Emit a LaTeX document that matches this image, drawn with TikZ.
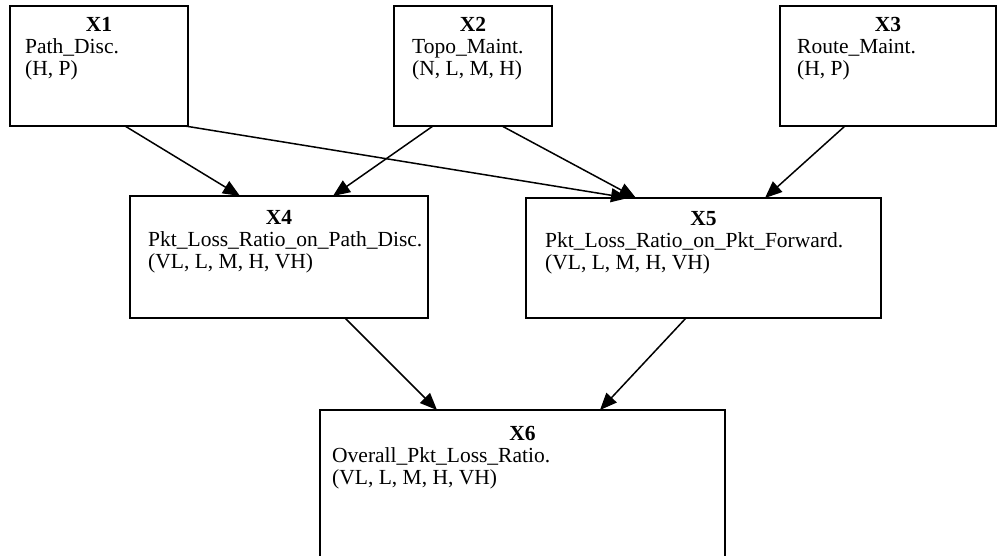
\documentclass[tikz,border=0pt]{standalone}
\usepackage{fontspec}
\setmainfont{Liberation Serif}
\usetikzlibrary{arrows.meta,calc}
\begin{document}
\begin{tikzpicture}[x=1pt,y=-1pt,
  box/.style={draw, line width=2pt, rectangle, inner sep=0pt, outer sep=0pt},
  ttl/.style={font=\fontsize{21.5}{22}\selectfont\bfseries, inner sep=0pt, anchor=base},
  txt/.style={font=\fontsize{21.5}{22}\selectfont, inner sep=0pt, anchor=base west},
  arr/.style={-{Triangle[length=17pt,width=14pt]}, line width=1.5pt}]
\useasboundingbox (0,0) rectangle (1008,556);
\clip (0,0) rectangle (1008,556);
% boxes
\node[box, minimum width=178pt, minimum height=120pt] (x1) at (99,66) {};
\node[box, minimum width=158pt, minimum height=120pt] (x2) at (473,66) {};
\node[box, minimum width=216pt, minimum height=120pt] (x3) at (888,66) {};
\node[box, minimum width=298pt, minimum height=122pt] (x4) at (279,257) {};
\node[box, minimum width=355pt, minimum height=120pt] (x5) at (703.5,258) {};
\node[box, minimum width=405pt, minimum height=180pt] (x6) at (522.5,500) {};
% texts
\node[ttl] (x1t) at (99,32) {X1};
\node[txt] (x1a) at (25,54) {Path\_Disc.};
\node[txt] (x1b) at (25,76) {(H, P)};
\node[ttl] (x2t) at (473,32) {X2};
\node[txt] (x2a) at (412,54) {Topo\_Maint.};
\node[txt] (x2b) at (412,76) {(N, L, M, H)};
\node[ttl] (x3t) at (888,32) {X3};
\node[txt] (x3a) at (797,54) {Route\_Maint.};
\node[txt] (x3b) at (797,76) {(H, P)};
\node[ttl] (x4t) at (279,224) {X4};
\node[txt] (x4a) at (148,246) {Pkt\_Loss\_Ratio\_on\_Path\_Disc.};
\node[txt] (x4b) at (148,268) {(VL, L, M, H, VH)};
\node[ttl] (x5t) at (703.5,225) {X5};
\node[txt] (x5a) at (545,247) {Pkt\_Loss\_Ratio\_on\_Pkt\_Forward.};
\node[txt] (x5b) at (545,269) {(VL, L, M, H, VH)};
\node[ttl] (x6t) at (522.5,440) {X6};
\node[txt] (x6a) at (332,462) {Overall\_Pkt\_Loss\_Ratio.};
\node[txt] (x6b) at (332,484) {(VL, L, M, H, VH)};
% arrows
\draw[arr] ([xshift=115pt]x1.south west) -- ([xshift=110pt]x4.north west);
\draw[arr] ([xshift=175pt]x1.south west) -- ([xshift=102pt]x5.north west);
\draw[arr] ([xshift=39pt]x2.south west) -- ([xshift=203pt]x4.north west);
\draw[arr] ([xshift=108pt]x2.south west) -- ([xshift=110pt]x5.north west);
\draw[arr] ([xshift=65pt]x3.south west) -- ([xshift=239pt]x5.north west);
\draw[arr] ([xshift=215pt]x4.south west) -- ([xshift=117pt]x6.north west);
\draw[arr] ([xshift=160pt]x5.south west) -- ([xshift=280pt]x6.north west);
\end{tikzpicture}
\end{document}
